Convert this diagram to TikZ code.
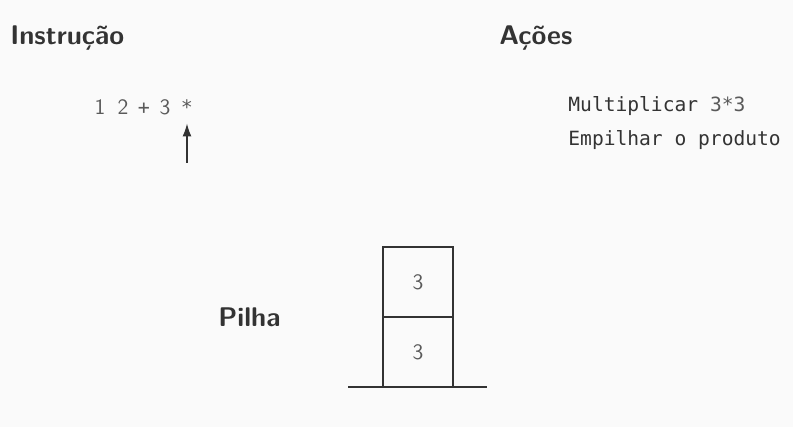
\documentclass[tikz,border=0pt]{standalone}
\usepackage{fontspec}
\setmonofont{DejaVu Sans Mono}
\usetikzlibrary{arrows.meta}
\definecolor{fundo}{HTML}{FAFAFA}
\definecolor{tinta}{HTML}{333333}
\definecolor{cinza}{HTML}{5A5A5A}

\begin{document}
\begin{tikzpicture}[x=0.5pt,y=-0.5pt]
\tikzstyle{every node}+=[inner sep=0pt, text=tinta]
\tikzstyle{titulo}=[anchor=base west, font=\sffamily\bfseries\fontsize{13.5}{15}\selectfont]
\tikzstyle{acao}=[anchor=base west, font=\ttfamily\fontsize{9.8}{12}\selectfont]
\tikzstyle{simbolo}=[anchor=base, text=cinza, font=\sffamily\fontsize{11}{13}\selectfont]
\tikzstyle{operador}=[simbolo, font=\ttfamily\fontsize{10}{12}\selectfont]
\tikzstyle{celula}=[draw=tinta, line width=1pt, minimum width=35pt, minimum height=35pt, text=cinza, font=\sffamily\fontsize{11}{13}\selectfont]
\fill [fundo] (0,0) rectangle (793,427);
\useasboundingbox (0,0) rectangle (793,427);
% titulos
\node [titulo] (instr) at (10,45) {Instrução};
\node [titulo] (acoes) at (499,45) {Ações};
\node [titulo] (pilha) at (218,327) {Pilha};
% expressao posfixa
\foreach \x/\s/\n in {100/1/t1, 123/2/t2, 165/3/t4} {
  \node [simbolo] (\n) at (\x,115) {\s};
}
\node [operador] (t3) at (144,115) {+};
\node [operador] (t5) at (187,115) {*};
\coordinate (seta) at (187,163);
\draw [tinta, line width=0.8pt, -{Latex[length=6.5pt,width=4.5pt]}, shorten >=4pt] (seta) -- (t5.south);
% acoes
\node [acao] (a1) at (568,112) {Multiplicar \textcolor{cinza}{3*3}};
\node [acao] (a2) at (568,146) {Empilhar o produto};
% pilha
\node [celula] (c1) at (418,352) {3};
\node [celula] (c2) at (418,282) {3};
\coordinate (b1) at (348,387);
\coordinate (b2) at (487,387);
\draw [tinta, line width=1pt] (b1) -- (b2);
\end{tikzpicture}
\end{document}
